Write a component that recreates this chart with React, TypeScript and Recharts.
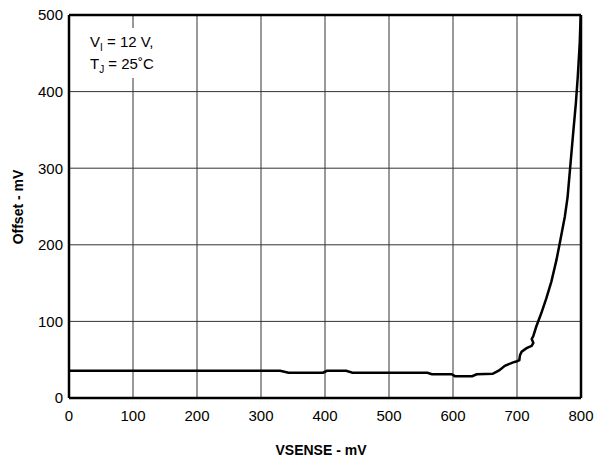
import React from 'react';
import { LineChart, Line, XAxis, YAxis, CartesianGrid, ReferenceLine, Customized } from 'recharts';

const vsense = [0, 330, 343, 397, 403, 433, 443, 560, 567, 598, 603, 630, 637, 662, 672, 681, 694, 700, 703.6, 704.7, 707.3, 715, 723, 725.5, 723, 725.5, 730, 737.9, 745.8, 753.7, 761.6, 766.8, 774.7, 779, 783, 788, 792, 795, 798, 799.5];
const offset = [35.5, 35.5, 33, 33, 35.5, 35.5, 33, 33, 31, 31, 28.5, 28.5, 31, 31.5, 36, 42, 46.5, 48, 49.5, 56, 60.5, 65, 68, 72, 77, 81, 93, 110.6, 130, 152, 180, 202, 236.7, 262, 300, 348, 385, 420, 463, 500];
const xTicks = [0, 100, 200, 300, 400, 500, 600, 700, 800];
const yTicks = [0, 100, 200, 300, 400, 500];

const data = vsense.map((v, i) => ({ v, o: offset[i] }));

const FONT = 'Arial, "Liberation Sans", Helvetica, sans-serif';

const Overlay = () => (
  <g fontFamily={FONT} fill="#000">
    <rect x={86} y={28} width={78} height={50} fill="#fff" />
    <text x={90} y={47} fontSize={15}>
      V<tspan fontSize={10} dy={4}>I</tspan><tspan dy={-4}> = 12 V,</tspan>
    </text>
    <text x={90} y={69} fontSize={15}>
      T<tspan fontSize={10} dy={4}>J</tspan><tspan dy={-4}> = 25˚C</tspan>
    </text>
    <text x={321} y={455} fontSize={14} fontWeight="bold" textAnchor="middle">VSENSE - mV</text>
    <text x={23} y={207} fontSize={14} fontWeight="bold" textAnchor="middle" transform="rotate(-90 23 207)">Offset - mV</text>
  </g>
);

export default function App() {
  return (
    <div style={{ position: 'absolute', left: 0, top: 0, width: 598, height: 464, background: '#fff' }}>
      <LineChart width={598} height={464} data={data} margin={{ top: 15, right: 17, bottom: 36, left: 9 }}>
        <CartesianGrid stroke="#333" strokeWidth={1} />
        <XAxis
          dataKey="v"
          type="number"
          domain={[0, 800]}
          ticks={xTicks}
          height={30}
          tickLine={false}
          tickSize={0}
          tickMargin={12}
          axisLine={{ stroke: '#000', strokeWidth: 2.5 }}
          tick={{ fill: '#000', fontSize: 15, fontFamily: FONT }}
          interval={0}
        />
        <YAxis
          type="number"
          domain={[0, 500]}
          ticks={yTicks}
          width={60}
          tickLine={false}
          tickSize={0}
          tickMargin={6}
          axisLine={{ stroke: '#000', strokeWidth: 2.5 }}
          tick={{ fill: '#000', fontSize: 15, fontFamily: FONT }}
          interval={0}
        />
        <ReferenceLine y={500} stroke="#000" strokeWidth={2.5} />
        <ReferenceLine x={800} stroke="#000" strokeWidth={2.5} />
        <Line dataKey="o" type="linear" stroke="#000" strokeWidth={2.5} dot={false} isAnimationActive={false} />
        <Customized component={Overlay} />
      </LineChart>
    </div>
  );
}
